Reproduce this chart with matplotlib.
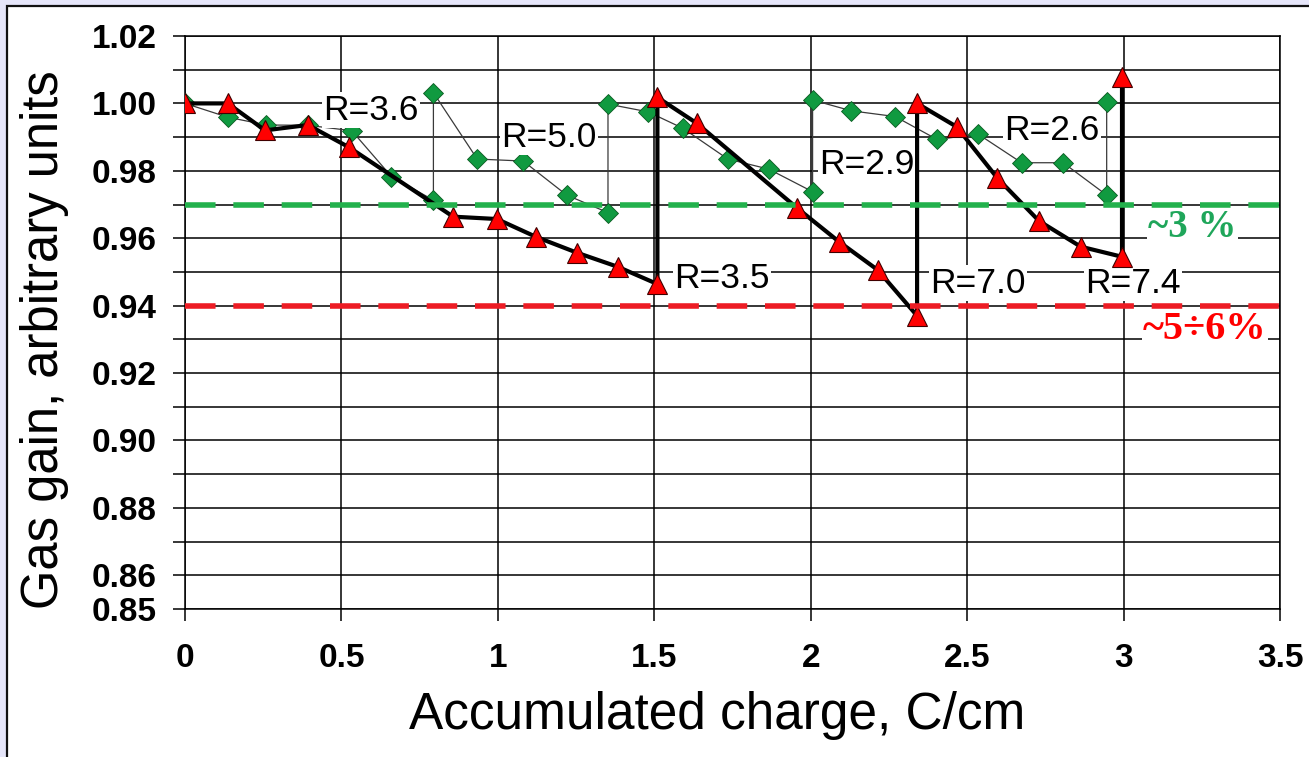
import numpy as np
import matplotlib
matplotlib.use("Agg")
import matplotlib.pyplot as plt
from matplotlib.patches import Rectangle
from matplotlib.ticker import FixedLocator, FixedFormatter

# gas gain vs accumulated charge, two wire chambers with gas flow changes (R = ...)
red_x = [0, 0.137, 0.256, 0.393, 0.524, 0.857, 0.997, 1.122, 1.253, 1.384, 1.51,
         1.51, 1.636, 1.956, 2.09, 2.214, 2.34,
         2.34, 2.466, 2.597, 2.73, 2.863, 2.995, 2.995]
red_y = [1.000, 1.000, 0.992, 0.9936, 0.987, 0.9664, 0.9657, 0.9604, 0.9557, 0.9515, 0.9464,
         1.0018, 0.9941, 0.969, 0.959, 0.9506, 0.937,
         1.000, 0.9931, 0.9778, 0.9651, 0.9575, 0.9545, 1.0079]

green_x = [0, 0.137, 0.26, 0.393, 0.533, 0.66, 0.794,
           0.794, 0.934, 1.081, 1.22, 1.352,
           1.352, 1.48, 1.592, 1.735, 1.866, 2.006,
           2.006, 2.13, 2.27, 2.404, 2.535, 2.674, 2.807, 2.946, 2.946]
green_y = [1.000, 0.9959, 0.9936, 0.9935, 0.9919, 0.9783, 0.9713,
           1.0032, 0.9835, 0.9829, 0.9728, 0.9676,
           0.9998, 0.9975, 0.9926, 0.9835, 0.9805, 0.9738,
           1.001, 0.9978, 0.9961, 0.9893, 0.9909, 0.9824, 0.9824, 0.9728, 1.0005]

r_labels = ["R=3.6", "R=5.0", "R=3.5", "R=2.9", "R=7.0", "R=7.4", "R=2.6"]
level_green = 0.97
level_red = 0.94

y_ticks = [round(0.85 + 0.01 * i, 2) for i in range(18)]
y_ticklabels = ["0.85", "0.86", "", "0.88", "", "0.90", "", "0.92", "", "0.94", "",
                "0.96", "", "0.98", "", "1.00", "", "1.02"]
x_ticks = [0, 0.5, 1, 1.5, 2, 2.5, 3, 3.5]
x_ticklabels = ["0", "0.5", "1", "1.5", "2", "2.5", "3", "3.5"]

plt.rcParams["font.family"] = ["Liberation Sans", "DejaVu Sans"]

fig = plt.figure(figsize=(13.09, 7.57), dpi=100)
fig.patch.set_facecolor("#e6e6fa")
fig.add_artist(Rectangle((7 / 1309, -0.05), 1.1, 1.05 - 6 / 757,
                         transform=fig.transFigure, facecolor="white",
                         edgecolor="#111111", lw=1.6, zorder=0))

ax = fig.add_axes([185 / 1309, 1 - 609 / 757, 1095 / 1309, 573 / 757])
ax.set_xlim(0, 3.5)
ax.set_ylim(0.85, 1.02)

ax.yaxis.set_major_locator(FixedLocator(y_ticks))
ax.yaxis.set_major_formatter(FixedFormatter(y_ticklabels))
ax.xaxis.set_major_locator(FixedLocator(x_ticks))
ax.xaxis.set_major_formatter(FixedFormatter(x_ticklabels))
ax.grid(True, color="black", lw=1.1)
ax.set_axisbelow(True)
for s in ax.spines.values():
    s.set_color("black")
    s.set_linewidth(1.1)
ax.tick_params(direction="out", length=8.5, width=1.1, colors="black",
               labelsize=24)
ax.tick_params(axis="y", pad=12)
ax.tick_params(axis="x", pad=16)
for lab in ax.get_xticklabels() + ax.get_yticklabels():
    lab.set_fontweight("bold")

ax.plot(green_x, green_y, color="#3a3a3a", lw=0.9, marker="D", ms=10,
        mfc="#109a40", mec="#0a5a20", mew=0.6, zorder=3)
ax.plot(red_x, red_y, color="black", lw=3.0, marker="^", ms=14,
        mfc="#ff0000", mec="#400000", mew=0.8, zorder=4)

ax.axhline(level_green, color="#22b14c", lw=4, dashes=(5.5, 3.2), zorder=5)
ax.axhline(level_red, color="#ed1c24", lw=4, dashes=(5.5, 3.2), zorder=5)

r_pos = [(0.594, 0.998), (1.163, 0.990), (1.717, 0.948), (2.18, 0.982),
         (2.535, 0.9467), (3.03, 0.9467), (2.77, 0.992)]
for txt, (x, y) in zip(r_labels, r_pos):
    ax.text(x, y, txt, fontsize=25.5, ha="center", va="center", zorder=3.5,
            bbox=dict(facecolor="white", edgecolor="none", pad=1))

ax.text(3.22, 0.9633, "~3 %", fontsize=28, color="#1fa65a", fontweight="bold",
        family=["Liberation Serif", "DejaVu Serif"], ha="center", va="center",
        zorder=3.5, bbox=dict(facecolor="white", edgecolor="none", pad=1))
ax.text(3.26, 0.9328, "~5\u00f76%", fontsize=29, color="#ff0000", fontweight="bold",
        family=["Liberation Serif", "DejaVu Serif"], ha="center", va="center",
        zorder=3.5, bbox=dict(facecolor="white", edgecolor="none", pad=1))

fig.text(45 / 1309, 1 - 340 / 757, "Gas gain, arbitrary units", rotation=90,
         fontsize=36.5, ha="center", va="center")
fig.text(717 / 1309, 1 - 716 / 757, "Accumulated charge, C/cm",
         fontsize=37, ha="center", va="center")

fig.savefig("out.png", dpi=100, facecolor=fig.get_facecolor())
